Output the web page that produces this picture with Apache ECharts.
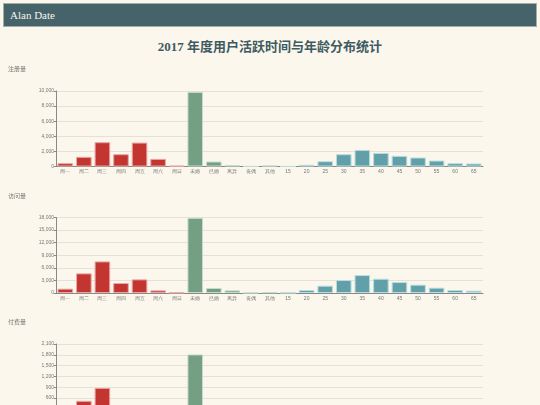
<!DOCTYPE html>
<html lang="zh">
<head>
    <meta charset="UTF-8">
    <title>Alan Date</title>
    <script src="https://cdn.jsdelivr.net/npm/echarts@6/dist/echarts.min.js"></script>
    <style>
        html, body {
            margin: 0;
            padding: 0;
            width: 540px;
            height: 405px;
            overflow: hidden;
            background: #fbf7ec;
            font-family: "Liberation Serif", "Noto Sans CJK SC", serif;
        }
        #header {
            position: absolute;
            left: 3px; top: 3px;
            width: 532px; height: 22px;
            background: #46636a;
            border: 1px solid #a3aeab;
            color: #f4f4f0;
            font-size: 11px;
            line-height: 22px;
        }
        #header span { margin-left: 6px; }
        #title {
            position: absolute;
            left: 0; top: 36px;
            width: 540px;
            text-align: center;
            font-size: 13px;
            font-weight: bold;
            color: #3f5b62;
        }
        #main {
            position: absolute;
            left: 0; top: 60px;
            width: 540px; height: 380px;
        }
    </style>
</head>
<body>
    <div id="header"><span>Alan Date</span></div>
    <div id="title">2017 年度用户活跃时间与年龄分布统计</div>
    <div id="main"></div>

    <script>
        // 分类：前 7 个星期、5 个婚姻状况、后面是年龄段
        const weekdays = ['周一', '周二', '周三', '周四', '周五', '周六', '周日']
        const marital = ['未婚', '已婚', '离异', '丧偶', '其他']
        const ages = ['15', '20', '25', '30', '35', '40', '45', '50', '55', '60', '65']
        const categories = weekdays.concat(marital, ages)

        const panelTitles = ['注册量', '访问量', '付费量']

        const regData = [440, 1280, 3220, 1630, 3170, 1010, 90,
            9870, 660, 180, 20, 130,
            10, 220, 700, 1630, 2200, 1800, 1410, 1190, 790, 440, 400]
        const visitData = [1030, 4680, 7530, 2380, 3250, 630, 80,
            17920, 1190, 630, 30, 150,
            50, 710, 1740, 3090, 4270, 3400, 2610, 1980, 1270, 710, 550]
        const payData = [210, 520, 880, 300, 340, 110, 10,
            1810, 120, 80, 5, 20,
            5, 60, 150, 260, 380, 320, 250, 200, 130, 80, 60]

        const yMax = [10000, 18000, 2100]
        const yStep = [2000, 3000, 300]

        const colors = ['#c23531', '#749f83', '#61a0a8']
        const borders = ['#eba5a3', '#c4dcc9', '#b9dde0']

        function groupOf (i) {
            if (i < weekdays.length) return 0
            if (i < weekdays.length + marital.length) return 1
            return 2
        }

        let chart = echarts.init(document.getElementById('main'))

        const allData = [regData, visitData, payData]
        const tops = [31, 157.5, 284]

        let option = {
            animation: false,
            title: [],
            grid: [],
            xAxis: [],
            yAxis: [],
            series: []
        }

        allData.forEach((d, k) => {
            option.title.push({
                text: panelTitles[k],
                left: 3,
                top: tops[k] - 30,
                textStyle: { fontSize: 6, fontWeight: 'normal', color: '#777', fontFamily: 'Noto Sans CJK SC' }
            })
            option.grid.push({ left: 56, width: 427, top: tops[k], height: 75.5 })
            option.xAxis.push({
                type: 'category',
                gridIndex: k,
                data: categories,
                axisLine: { lineStyle: { color: '#888' } },
                axisTick: { length: 2, lineStyle: { color: '#888' } },
                axisLabel: { interval: 0, fontSize: 5, color: '#777', margin: 3, fontFamily: 'sans-serif' }
            })
            option.yAxis.push({
                type: 'value',
                gridIndex: k,
                min: 0,
                max: yMax[k],
                interval: yStep[k],
                axisLine: { show: true, lineStyle: { color: '#888' } },
                axisTick: { show: true, length: 2, lineStyle: { color: '#888' } },
                axisLabel: { fontSize: 5, color: '#777', margin: 2, fontFamily: 'sans-serif' },
                splitLine: { lineStyle: { color: '#e4e1d8' } }
            })
            option.series.push({
                type: 'bar',
                xAxisIndex: k,
                yAxisIndex: k,
                barCategoryGap: '16%',
                data: d.map((v, i) => ({
                    value: v,
                    itemStyle: { color: colors[groupOf(i)], borderColor: borders[groupOf(i)], borderWidth: 1 }
                }))
            })
        })

        chart.setOption(option)
    </script>
</body>
</html>
